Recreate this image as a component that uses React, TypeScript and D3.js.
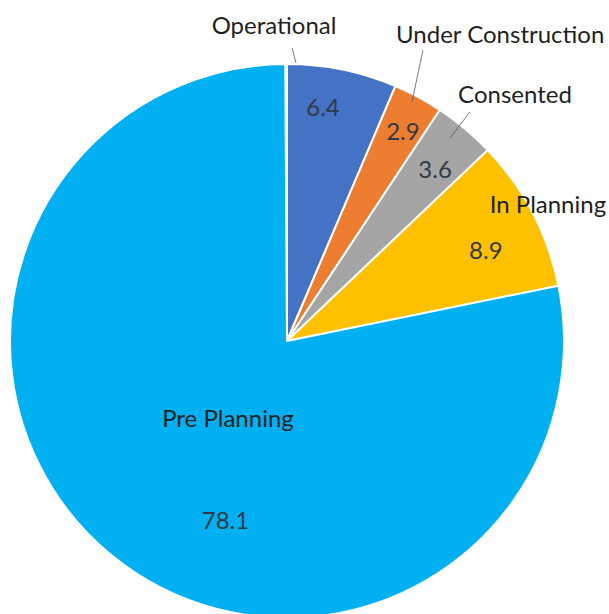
import React from "react";
import * as d3 from "d3";

// Project pipeline share by stage (%)
const stages = ["Operational", "Under Construction", "Consented", "In Planning", "Pre Planning"];
const shares = [6.4, 2.9, 3.6, 8.9, 78.1];
const colors = ["#4472C4", "#ED7D31", "#A5A5A5", "#FFC000", "#00B0F0"];

// Label placement: [angle in degrees clockwise from 12 o'clock, radius as fraction of pie radius]
const valueLabelPos: [number, number][] = [
  [8.75, 0.855],
  [28.9, 0.866],
  [40.7, 0.82],
  [65.3, 0.79],
  [199.06, 0.68],
];
const nameLabelPos: [number, number][] = [
  [-2.35, 1.142],
  [34.7, 1.352],
  [42.6, 1.216],
  [62.3, 1.064],
  [217.5, 0.35],
];
// Leader lines: [angle start, r start, angle end, r end]
const leaders: ([number, number, number, number] | null)[] = [
  [1.0, 1.058, 1.85, 1.004],
  [25.05, 1.159, 27.6, 0.974],
  [38.6, 1.058, 38.8, 0.94],
  null,
  null,
];

const W = 609;
const H = 614;
const cx = 287;
const cy = 341;
const R = 277;

const polar = (deg: number, rf: number): [number, number] => {
  const a = (deg * Math.PI) / 180;
  return [cx + R * rf * Math.sin(a), cy - R * rf * Math.cos(a)];
};

export default function App() {
  const pie = d3
    .pie<number>()
    .sort(null)
    .value((d) => d)
    .startAngle(0)
    .endAngle(2 * Math.PI * (d3.sum(shares) / 100));
  const arcs = pie(shares);
  const arc = d3.arc<d3.PieArcDatum<number>>().innerRadius(0).outerRadius(R);
  const font = "Lato, 'Open Sans', sans-serif";

  return (
    <svg
      width={W}
      height={H}
      style={{ position: "absolute", left: 0, top: 0, background: "#fff" }}
    >
      <g transform={`translate(${cx},${cy})`}>
        {arcs.map((a, i) => (
          <path
            key={stages[i]}
            d={arc(a) || ""}
            fill={colors[i]}
            stroke="#fff"
            strokeWidth={2}
            strokeLinejoin="round"
          />
        ))}
      </g>
      {leaders.map((l, i) => {
        if (!l) return null;
        const [x1, y1] = polar(l[0], l[1]);
        const [x2, y2] = polar(l[2], l[3]);
        return (
          <line
            key={"leader" + i}
            x1={x1}
            y1={y1}
            x2={x2}
            y2={y2}
            stroke="#595959"
            strokeWidth={0.8}
          />
        );
      })}
      {arcs.map((a, i) => {
        const [x, y] = polar(valueLabelPos[i][0], valueLabelPos[i][1]);
        return (
          <text
            key={"v" + i}
            x={x}
            y={y}
            textAnchor="middle"
            dominantBaseline="central"
            fontFamily={font}
            fontSize={24}
            fill="#303a46"
          >
            {a.data.toFixed(1)}
          </text>
        );
      })}
      {stages.map((s, i) => {
        const [x, y] = polar(nameLabelPos[i][0], nameLabelPos[i][1]);
        return (
          <text
            key={"n" + i}
            x={x}
            y={y}
            textAnchor="middle"
            dominantBaseline="central"
            fontFamily={font}
            fontSize={24}
            fill="#1f1f1f"
          >
            {s}
          </text>
        );
      })}
    </svg>
  );
}
